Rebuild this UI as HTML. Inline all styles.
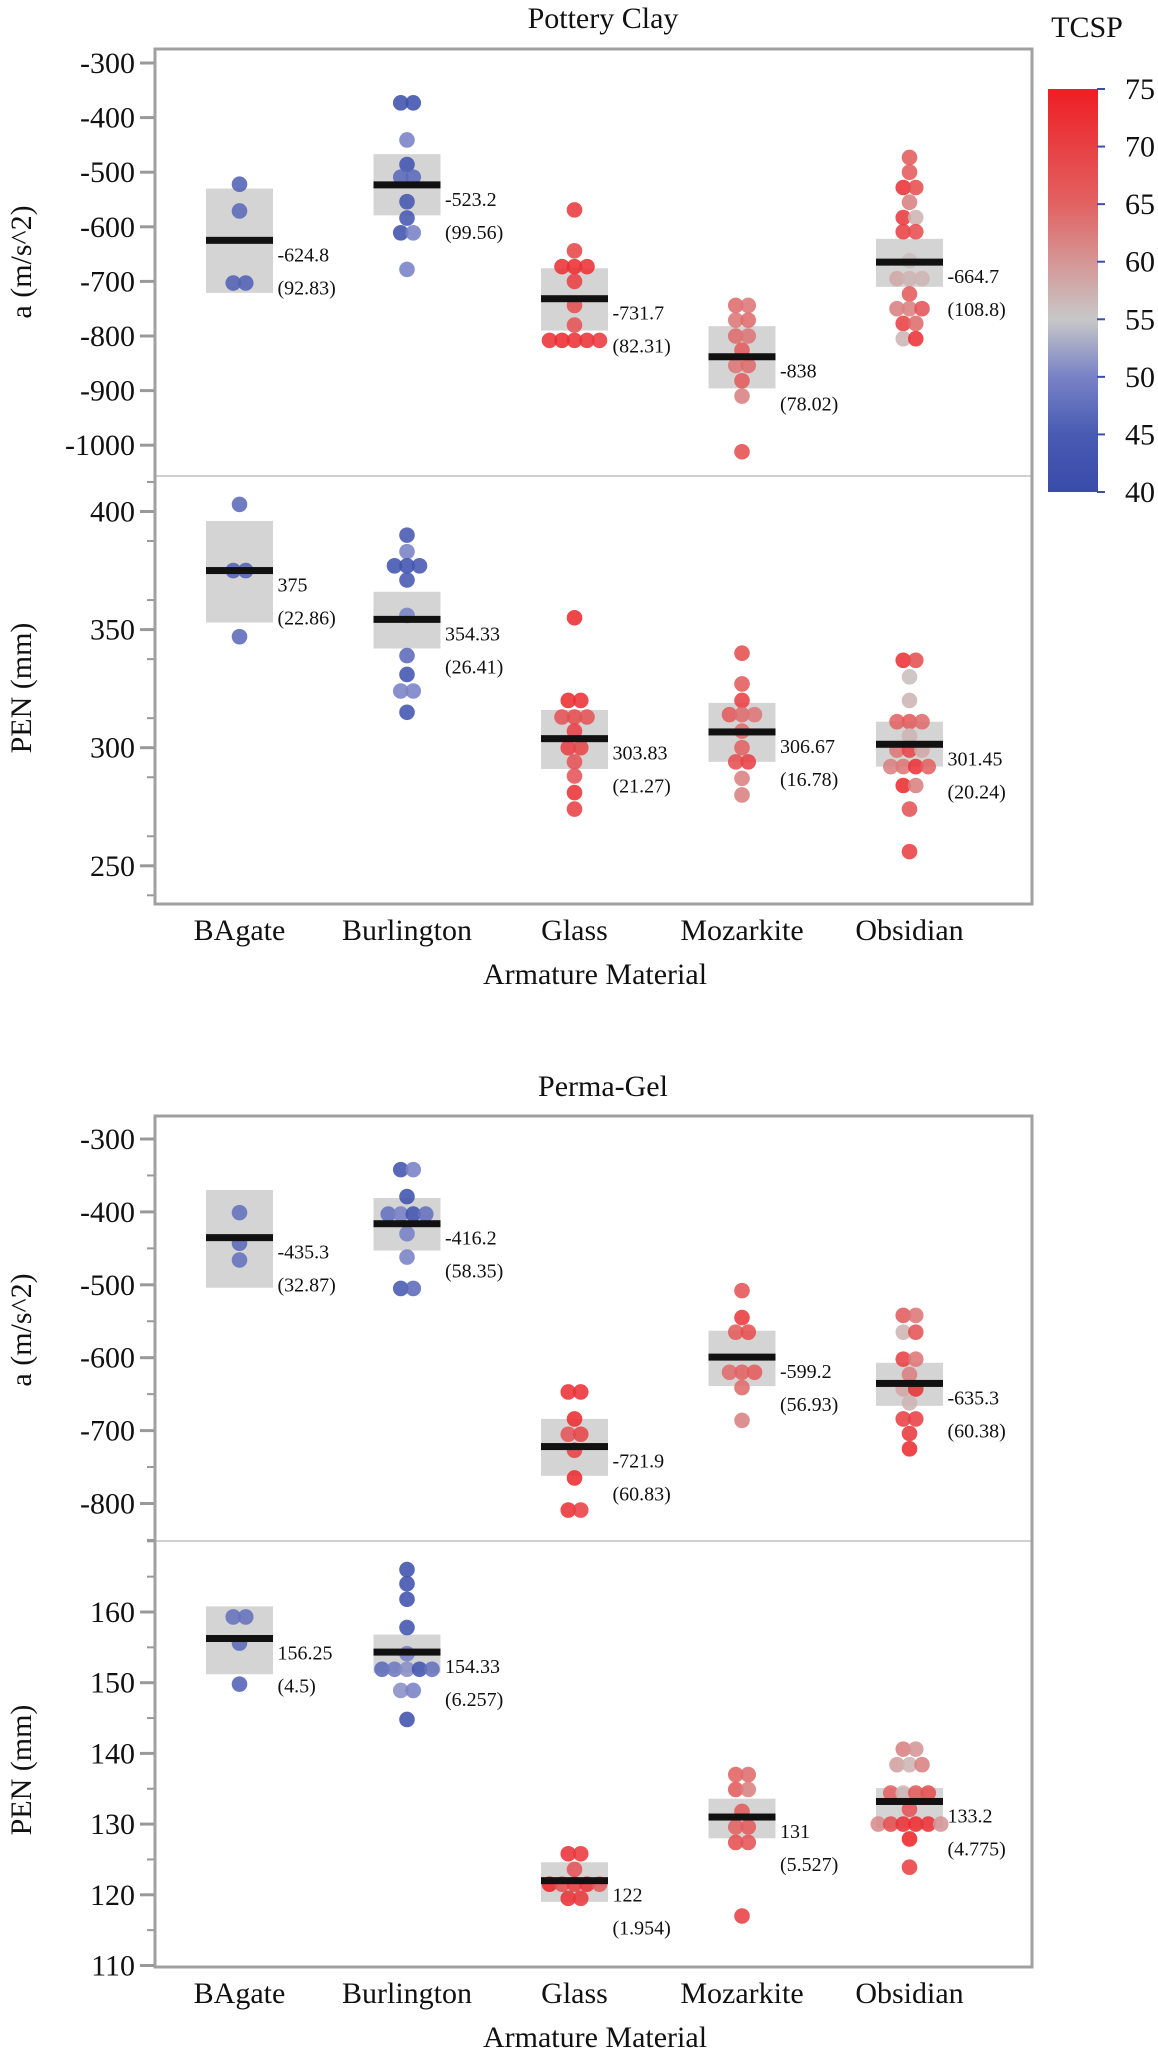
<!DOCTYPE html>
<html><head><meta charset="utf-8">
<style>
html,body{margin:0;padding:0;background:#fff;}
svg{display:block;font-family:"Liberation Serif",serif;}
</style></head>
<body>
<svg id="chart" width="1158" height="2067" viewBox="0 0 1158 2067" xmlns="http://www.w3.org/2000/svg"></svg>
<script>
// ---- data ----
const categories = ["BAgate","Burlington","Glass","Mozarkite","Obsidian"];
const colorTicks = [75,70,65,60,55,50,45,40];

// Pottery Clay - a
const pcAVals = [[-522,-571,-703,-703],[-373,-373,-441,-486,-509,-509,-554,-584,-611,-611,-678],[-569,-644,-673,-673,-673,-700,-744,-780,-808,-808,-808,-808,-808],[-744,-744,-771,-771,-800,-800,-826,-854,-854,-882,-910,-1012],[-473,-500,-528,-528,-555,-583,-583,-609,-609,-662,-695,-695,-695,-723,-750,-750,-750,-777,-777,-805,-805]];
const pcATemps = [[46,47,46,46],[42,42,50,43,47,47,44,44,42,50,50],[71,69,72,73,72,70,68,67,72,73,72,72,71],[64,63,63,64,64,63,66,63,64,66,62,68],[66,66,72,68,62,71,57,70,68,56,58,57,57,66,62,62,67,70,64,57,72]];
const pcAMeans = [-624.8,-523.2,-731.7,-838,-664.7];
const pcASd = ["92.83","99.56","82.31","78.02","108.8"];
const pcABoxHi = [-530,-467,-676,-782,-622];
const pcABoxLo = [-721,-579,-790,-896,-710];
const pcATicks = [-300,-400,-500,-600,-700,-800,-900,-1000];

// Pottery Clay - PEN
const pcPVals = [[403,375,375,347],[390,383,377,377,377,371,356,339,331,324,324,315],[355,320,320,313,313,313,307,300,300,294,288,281,274],[340,327,320,314,314,314,307,300,294,294,287,280],[337,337,330,320,311,311,311,305,299,299,299,292,292,292,292,284,284,274,256]];
const pcPTemps = [[47,46,46,47],[44,50,43,42,44,44,50,47,43,50,50,43],[73,73,72,67,68,67,70,70,69,67,67,72,70],[68,66,70,66,64,63,64,65,68,70,62,62],[72,68,56,57,65,66,64,57,63,69,58,62,63,72,65,73,62,67,70]];
const pcPMeans = [375,354.33,303.83,306.67,301.45];
const pcPSd = ["22.86","26.41","21.27","16.78","20.24"];
const pcPBoxHi = [396,366,316,319,311];
const pcPBoxLo = [353,342,291,294,292];
const pcPTicks = [400,350,300,250];

// Perma-Gel - a
const pgAVals = [[-401,-443,-466],[-342,-342,-379,-403,-403,-403,-403,-430,-462,-505,-505],[-647,-647,-684,-705,-705,-727,-765,-809,-809],[-508,-545,-565,-565,-620,-620,-620,-641,-686],[-542,-542,-565,-565,-602,-602,-623,-643,-643,-662,-684,-684,-704,-725]];
const pgATemps = [[48,47,48],[43,50,42,48,50,43,48,50,50,45,47],[72,72,73,67,69,70,73,72,70],[67,71,66,68,64,65,66,64,62],[66,63,57,67,70,63,62,58,72,57,70,70,71,73]];
const pgAMeans = [-435.3,-416.2,-721.9,-599.2,-635.3];
const pgASd = ["32.87","58.35","60.83","56.93","60.38"];
const pgABoxHi = [-370,-381,-684,-563,-607];
const pgABoxLo = [-504,-453,-762,-639,-666];
const pgATicks = [-300,-400,-500,-600,-700,-800];

// Perma-Gel - PEN
const pgPVals = [[159.3,159.3,155.6,149.8],[166,164,161.8,157.8,154.1,151.9,151.9,151.9,151.9,151.9,148.9,148.9,144.8],[125.8,125.8,123.6,121.5,121.5,121.5,121.5,121.5,119.5,119.5],[137,137,134.9,134.9,131.8,129.6,129.6,127.4,127.4,117],[140.6,140.6,138.4,138.4,138.4,134.4,134.4,134.4,134.4,132.1,130,130,130,130,130,130,127.9,123.9]];
const pgPTemps = [[48,48,47,46],[42,42,42,43,50,47,49,51,43,48,51,50,42],[72,71,67,74,68,70,72,66,72,71],[65,64,66,62,66,65,66,68,67,70],[62,60,59,57,62,65,57,66,68,67,61,68,72,73,72,60,74,70]];
const pgPMeans = [156.25,154.33,122,131,133.2];
const pgPSd = ["4.5","6.257","1.954","5.527","4.775"];
const pgPBoxHi = [160.8,156.8,124.6,133.6,135.1];
const pgPBoxLo = [151.2,151.4,119,128,129.4];
const pgPTicks = [160,150,140,130,120,110];

// ---- rendering ----
const NS = "http://www.w3.org/2000/svg";
const svg = document.getElementById("chart");
function mk(tag, attrs, parent, text){
  const e = document.createElementNS(NS, tag);
  for (const k in attrs) e.setAttribute(k, attrs[k]);
  if (text !== undefined) e.textContent = text;
  (parent || svg).appendChild(e);
  return e;
}
function lerp(a,b,t){return a+(b-a)*t;}
const cStops = [[40,[58,76,170]],[45,[72,90,178]],[50,[120,130,198]],[55,[200,200,200]],[65,[226,98,98]],[75,[238,30,36]]];
function tColor(t){
  if (t<=cStops[0][0]) return "rgb("+cStops[0][1].join(",")+")";
  for (let i=1;i<cStops.length;i++){
    if (t<=cStops[i][0]){
      const a=cStops[i-1], b=cStops[i], f=(t-a[0])/(b[0]-a[0]);
      return "rgb("+[0,1,2].map(j=>Math.round(lerp(a[1][j],b[1][j],f))).join(",")+")";
    }
  }
  return "rgb("+cStops[cStops.length-1][1].join(",")+")";
}

const frameL = 155, frameR = 1032;
const xCat = i => 239.5 + i*167.5;
const boxW = 67;

function drawSubplot(g, name, yScale, vals, temps, means, sds, hi, lo, ticks, minorStep, minorFrom, minorTo, fmt){
  const grp = mk("g", {}, g);
  
  
  ticks.forEach(v=>{
    const y = yScale(v);
    const t = mk("line",{x1:140,x2:frameL,y1:y,y2:y,stroke:"#999","stroke-width":3},grp);
    
    
    const l = mk("text",{x:135,y:y+10,"text-anchor":"end","font-size":30,fill:"#111"},grp,fmt(v));
    
    
  });
  if (minorStep){
    for (let v=minorFrom; v<=minorTo+1e-9; v+=minorStep){
      const y = yScale(v);
      const m = mk("line",{x1:147,x2:frameL,y1:y,y2:y,stroke:"#999","stroke-width":2},grp);
      
      
    }
  }
  categories.forEach((c,i)=>{
    const cx = xCat(i);
    const b = mk("rect",{x:cx-boxW/2,y:yScale(hi[i]),width:boxW,height:yScale(lo[i])-yScale(hi[i]),fill:"#d4d4d4"},grp);
    
    
    const counts = {}, idx = {};
    vals[i].forEach(v=>{counts[v]=(counts[v]||0)+1;});
    vals[i].forEach((v,k)=>{
      const n = counts[v]; idx[v]=(idx[v]||0);
      const off = (idx[v]-(n-1)/2)*12.5; idx[v]++;
      const p = mk("circle",{cx:cx+off,cy:yScale(v),r:7.8,fill:tColor(temps[i][k]),"fill-opacity":0.88},grp);
      
      
    });
    const my = yScale(means[i]);
    const mb = mk("rect",{x:cx-boxW/2,y:my-3.5,width:boxW,height:7,fill:"#111"},grp);
    
    
    const t1 = mk("text",{x:cx+38,y:my+21,"font-size":20,fill:"#111"},grp,String(means[i]));
    
    
    const t2 = mk("text",{x:cx+38,y:my+54,"font-size":20,fill:"#111"},grp,"("+sds[i]+")");
    
    
  });
}

function drawPanel(opts){
  const g = mk("g",{});
  
  
  const title = mk("text",{x:603,y:opts.titleY,"text-anchor":"middle","font-size":30,fill:"#111"},g,opts.title);
  
  
  opts.sub1(g); opts.sub2(g);
  const div = mk("line",{x1:frameL,x2:frameR,y1:opts.divY,y2:opts.divY,stroke:"#d0d0d0","stroke-width":2},g);
  
  
  const fr = mk("rect",{x:frameL,y:opts.top,width:frameR-frameL,height:opts.bottom-opts.top,fill:"none",stroke:"#a0a0a0","stroke-width":3},g);
  
  
  categories.forEach((c,i)=>{
    const l = mk("text",{x:xCat(i),y:opts.bottom+36,"text-anchor":"middle","font-size":30,fill:"#111"},g,c);
    
    
  });
  const xt = mk("text",{x:595,y:opts.bottom+80,"text-anchor":"middle","font-size":30,fill:"#111"},g,"Armature Material");
  
  
  const ya = mk("text",{x:0,y:0,"text-anchor":"middle","font-size":30,fill:"#111",transform:"translate(31,"+opts.aLabelY+") rotate(-90)"},g,"a (m/s^2)");
  
  
  const yp = mk("text",{x:0,y:0,"text-anchor":"middle","font-size":30,fill:"#111",transform:"translate(31,"+opts.pLabelY+") rotate(-90)"},g,"PEN (mm)");
  
  
}

const pcAY = v => 63 + (-300 - v) * 0.546;
const pcPY = v => 511.5 + (400 - v) * 2.362;
const pgAY = v => 1139 + (-300 - v) * 0.729;
const pgPY = v => 1612 + (160 - v) * 7.07;

drawPanel({name:"pottery-clay-panel",title:"Pottery Clay",titleY:28,top:49,bottom:904,divY:476,aLabelY:262,pLabelY:688,
  sub1:g=>drawSubplot(g,"pottery-a-subplot",pcAY,pcAVals,pcATemps,pcAMeans,pcASd,pcABoxHi,pcABoxLo,pcATicks,0,0,0,v=>String(v)),
  sub2:g=>drawSubplot(g,"pottery-pen-subplot",pcPY,pcPVals,pcPTemps,pcPMeans,pcPSd,pcPBoxHi,pcPBoxLo,pcPTicks,25,237.5,412.5,v=>String(v))});
drawPanel({name:"perma-gel-panel",title:"Perma-Gel",titleY:1096,top:1116,bottom:1967,divY:1541,aLabelY:1330,pLabelY:1770,
  sub1:g=>drawSubplot(g,"perma-a-subplot",pgAY,pgAVals,pgATemps,pgAMeans,pgASd,pgABoxHi,pgABoxLo,pgATicks,50,-850,-300,v=>String(v)),
  sub2:g=>drawSubplot(g,"perma-pen-subplot",pgPY,pgPVals,pgPTemps,pgPMeans,pgPSd,pgPBoxHi,pgPBoxLo,pgPTicks,5,110,170,v=>String(v))});

const lg = mk("g",{});


const defs = mk("defs",{},lg);
const grad = mk("linearGradient",{id:"cg",x1:0,y1:1,x2:0,y2:0},defs);
[40,45,50,55,60,65,70,75].forEach(t=>{
  mk("stop",{offset:((t-40)/35*100)+"%","stop-color":tColor(t)},grad);
});
const cbTop = 89, cbBot = 492;
const cbY = t => cbBot - (t-40)/35*(cbBot-cbTop);
const lt = mk("text",{x:1087,y:37,"text-anchor":"middle","font-size":30,fill:"#111"},lg,"TCSP");


const cb = mk("rect",{x:1048,y:cbTop,width:50,height:cbBot-cbTop,fill:"url(#cg)"},lg);


colorTicks.forEach(t=>{
  const y = cbY(t);
  const tk = mk("line",{x1:1097,x2:1105,y1:y,y2:y,stroke:"#3b4fa8","stroke-width":2},lg);
  
  
  const tl = mk("text",{x:1125,y:y+10,"font-size":30,fill:"#111"},lg,String(t));
  
  
});
</script>
</body></html>
